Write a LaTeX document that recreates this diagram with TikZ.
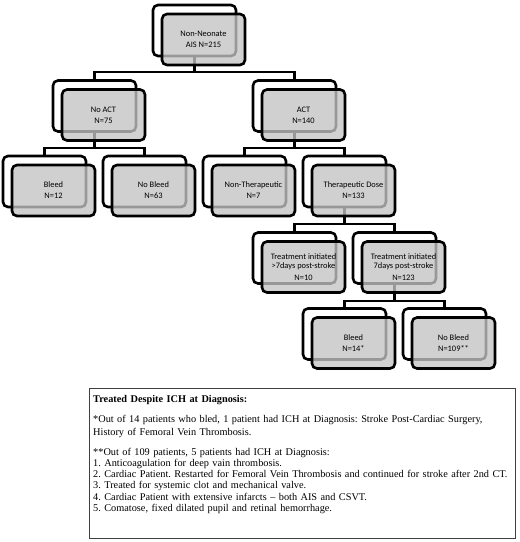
\documentclass[tikz,border=0pt]{standalone}
\usepackage{fontspec}
\setmainfont{Liberation Serif}
\newfontfamily\boxfont{Carlito}
\begin{document}
\begin{tikzpicture}[x=1pt,y=-1pt,
  backbox/.style={draw=black, line width=2.6pt, rounded corners=5pt, fill=white,
    minimum width=83pt, minimum height=51pt, inner sep=0pt},
  frontbox/.style={backbox, fill=black!23, fill opacity=0.78, text opacity=1,
    font=\boxfont\fontsize{8.4}{9.5}\selectfont, align=center},
  conn/.style={draw=black, line width=2.4pt},
  notebox/.style={draw=black!75, line width=0.8pt},
  notetext/.style={anchor=north west, inner sep=0pt, align=left, text width=422pt,
    font=\fontsize{10.3}{11.1}\selectfont\frenchspacing}]
\useasboundingbox (0,0) rectangle (520,542);
% back boxes
\node[backbox] (root-b) at (194.5,30.5) {};
\node[backbox] (noact-b) at (94.5,106) {};
\node[backbox] (act-b) at (294.5,106) {};
\node[backbox] (bleed1-b) at (44.5,181.5) {};
\node[backbox] (nobleed1-b) at (144.5,181.5) {};
\node[backbox] (nonther-b) at (244.5,181.5) {};
\node[backbox] (ther-b) at (344.5,181.5) {};
\node[backbox] (tra-b) at (294.5,258) {};
\node[backbox] (trb-b) at (394.5,258) {};
\node[backbox] (bleed2-b) at (344.5,334) {};
\node[backbox] (nobleed2-b) at (444.5,334) {};
% bus levels
\coordinate (bus1) at (0,72);
\coordinate (bus2) at (0,148);
\coordinate (bus3) at (0,224);
\coordinate (bus4) at (0,301);
% connectors
\draw[conn] (root-b.south) -- (root-b.south |- bus1);
\draw[conn] (noact-b.north) |- (act-b.north |- bus1) -- (act-b.north);
\draw[conn] (noact-b.south) -- (noact-b.south |- bus2);
\draw[conn] (bleed1-b.north) |- (nobleed1-b.north |- bus2) -- (nobleed1-b.north);
\draw[conn] (act-b.south) -- (act-b.south |- bus2);
\draw[conn] (nonther-b.north) |- (ther-b.north |- bus2) -- (ther-b.north);
\draw[conn] (ther-b.south) -- (ther-b.south |- bus3);
\draw[conn] (tra-b.north) |- (trb-b.north |- bus3) -- (trb-b.north);
\draw[conn] (trb-b.south) -- (trb-b.south |- bus4);
\draw[conn] (bleed2-b.north) |- (nobleed2-b.north |- bus4) -- (nobleed2-b.north);
% front boxes
\node[frontbox] (root) at (203.5,39.5) {Non-Neonate\\[1.5pt]AIS N=215};
\node[frontbox] (noact) at (103.5,115) {No ACT\\[1.5pt]N=75};
\node[frontbox] (act) at (303.5,115) {ACT\\[1.5pt]N=140};
\node[frontbox] (bleed1) at (53.5,190.5) {Bleed\\[1.5pt]N=12};
\node[frontbox] (nobleed1) at (153.5,190.5) {No Bleed\\[1.5pt]N=63};
\node[frontbox] (nonther) at (253.5,190.5) {Non-Therapeutic\\[1.5pt]N=7};
\node[frontbox] (ther) at (353.5,190.5) {Therapeutic Dose\\[1.5pt]N=133};
\node[frontbox] (tra) at (303.5,267) {Treatment initiated\\>7days post-stroke\\[2.5pt]N=10};
\node[frontbox] (trb) at (403.5,267) {Treatment initiated\\7days post-stroke\\[2.5pt]N=123};
\node[frontbox] (bleed2) at (353.5,343) {Bleed\\[1.5pt]N=14*};
\node[frontbox] (nobleed2) at (453.5,343) {No Bleed\\[1.5pt]N=109**};
% note box
\draw[notebox] (89,388) rectangle (515,538);
\node[notetext] (note) at (93,395) {\textbf{Treated Despite ICH at Diagnosis:}\\[9.5pt]
*Out of 14 patients who bled, 1 patient had ICH at Diagnosis: Stroke Post-Cardiac Surgery,\\[1pt]
History of Femoral Vein Thrombosis.\\[9.5pt]
**Out of 109 patients, 5 patients had ICH at Diagnosis:\\
1. Anticoagulation for deep vain thrombosis.\\
2. Cardiac Patient. Restarted for Femoral Vein Thrombosis and continued for stroke after 2nd CT.\\
3. Treated for systemic clot and mechanical valve.\\
4. Cardiac Patient with extensive infarcts -- both AIS and CSVT.\\
5. Comatose, fixed dilated pupil and retinal hemorrhage.};
\end{tikzpicture}
\end{document}
